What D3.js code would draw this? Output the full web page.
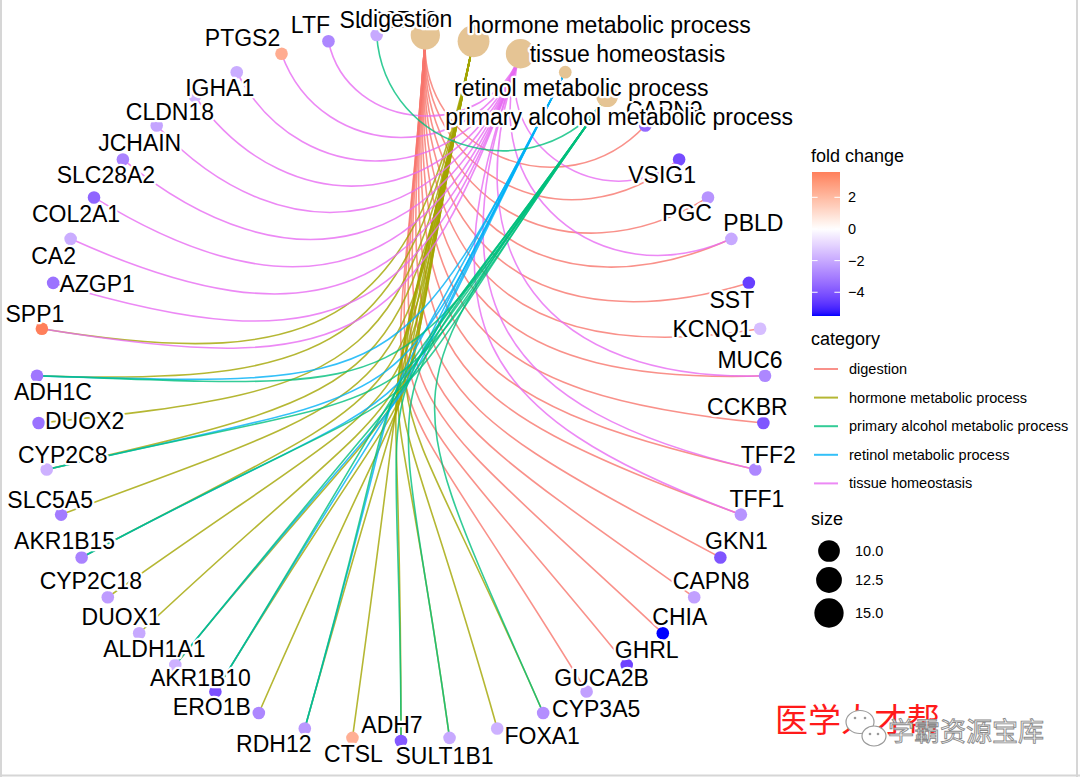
<!DOCTYPE html>
<html><head><meta charset="utf-8">
<script src="https://cdn.jsdelivr.net/npm/d3@7"></script>
<style>
body{margin:0;background:#fff;}
svg text{font-family:"Liberation Sans", Arial, sans-serif;}
</style></head><body>
<svg id="chart" width="1080" height="777"></svg>
<script>
// ---------------- data ----------------
const categories = ["digestion","hormone metabolic process","tissue homeostasis","retinol metabolic process","primary alcohol metabolic process"];
const legendCategories = ["digestion","hormone metabolic process","primary alcohol metabolic process","retinol metabolic process","tissue homeostasis"];
const genes = ["CAPN9","VSIG1","PGC","PBLD","SST","KCNQ1","MUC6","CCKBR","TFF2","TFF1","GKN1","CAPN8","CHIA","GHRL","GUCA2B","CYP3A5","FOXA1","SULT1B1","ADH7","CTSL","RDH12","ERO1B","AKR1B10","ALDH1A1","DUOX1","CYP2C18","AKR1B15","SLC5A5","CYP2C8","DUOX2","ADH1C","SPP1","AZGP1","CA2","COL2A1","SLC28A2","JCHAIN","CLDN18","IGHA1","PTGS2","LTF","SLC27A2"];
const foldChange = [-3.5,-4.2,-2.5,-2.0,-4.5,-1.5,-2.8,-4.0,-2.8,-2.5,-4.0,-2.2,-5.5,-4.4,-2.2,-2.6,-1.8,-2.0,-3.9,2.3,-2.4,-2.8,-4.1,-1.8,-2.0,-2.3,-2.9,-3.1,-1.8,-3.3,-3.2,3.6,-3.3,-1.9,-3.6,-2.9,-2.1,-1.7,-1.9,2.4,-2.8,-2.0];
const digestionGenes = ["CAPN9","VSIG1","PGC","PBLD","SST","KCNQ1","MUC6","CCKBR","TFF2","TFF1","GKN1","CAPN8","CHIA","GHRL","GUCA2B"];
const hormoneGenes = ["CYP3A5","FOXA1","SULT1B1","ADH7","CTSL","RDH12","ERO1B","AKR1B10","ALDH1A1","DUOX1","CYP2C18","AKR1B15","SLC5A5","CYP2C8","DUOX2","ADH1C","SPP1"];
const tissueGenes = ["VSIG1","PBLD","MUC6","TFF2","TFF1","SPP1","AZGP1","CA2","COL2A1","SLC28A2","JCHAIN","CLDN18","IGHA1","PTGS2","LTF"];
const retinolGenes = ["ADH1C","CYP2C8","AKR1B15","ALDH1A1","AKR1B10","RDH12"];
const alcoholGenes = ["CYP3A5","SULT1B1","ADH7","RDH12","AKR1B10","ALDH1A1","AKR1B15","CYP2C8","ADH1C","SLC27A2"];
const colorTicks = [2,0,-2,-4];
const sizeBreaks = [10,12.5,15];

// ---------------- layout (label placement, like ggrepel result) ----------------
const labelOffset = {
 "digestion":[-19,-16],"hormone metabolic process":[136,-16],"tissue homeostasis":[107,0],
 "retinol metabolic process":[16,16],"primary alcohol metabolic process":[12,21],
 CAPN9:[19,-16],VSIG1:[-17,16],PGC:[-21,16],PBLD:[22,-16],SST:[-17,17],KCNQ1:[-48,0],
 MUC6:[-15,-16],CCKBR:[-16,-16],TFF2:[13,-15],TFF1:[16,-16],GKN1:[16,-16],CAPN8:[17,-16],
 CHIA:[17,-16],GHRL:[20,-15],GUCA2B:[15,-14],CYP3A5:[53,-4],FOXA1:[45,8],SULT1B1:[-5,18],
 ADH7:[-9,-16],CTSL:[1,16],RDH12:[-31,16],ERO1B:[-47,-6],AKR1B10:[-15,-14],ALDH1A1:[-21,-16],
 DUOX1:[-18,-16],CYP2C18:[-17,-16],AKR1B15:[-17,-16],SLC5A5:[-11,-15],CYP2C8:[16,-15],
 DUOX2:[46,-2],ADH1C:[16,16],SPP1:[-7,-15],AZGP1:[44,1],CA2:[-17,17],COL2A1:[-18,17],
 SLC28A2:[-17,16],JCHAIN:[-17,17],CLDN18:[-25,16],IGHA1:[-17,16],PTGS2:[-39,-16],
 LTF:[-18,-16],SLC27A2:[12,-15]
};

// ---------------- build ----------------
const svg = d3.select("#chart");
svg.append("rect").attr("width",1080).attr("height",777).attr("fill","#fff");

const setsInOrder = [digestionGenes, hormoneGenes, tissueGenes, retinolGenes, alcoholGenes];
const edges = [];
categories.forEach((c,i)=> setsInOrder[i].forEach(g=>edges.push({source:c,target:g,category:c})));
const catCount = categories.map((c,i)=>setsInOrder[i].length);

const nodeNames = categories.concat(genes);
const angle = d3.scaleBand().domain(nodeNames).range([0, 2*Math.PI]);
const x = d3.scaleLinear().domain([-1,1]).range([401-364.2, 401+364.2]);
const y = d3.scaleLinear().domain([-1,1]).range([387.6+353.4, 387.6-353.4]);

const nodes = nodeNames.map((n,i)=>{
  const th = angle(n) + angle.bandwidth()/2;
  return {name:n, th, ux:Math.sin(th), uy:Math.cos(th), isCat: i<categories.length,
    fc: i<categories.length ? null : foldChange[i-categories.length],
    count: i<categories.length ? catCount[i] : null};
});
const byName = new Map(nodes.map(d=>[d.name,d]));

const catColor = d3.scaleOrdinal().domain(legendCategories).range(["#F8766D","#A3A500","#00BF7D","#00B0F6","#E76BF3"]);
const fcColor = d3.scaleLinear().domain([-5.5,0,5.5]).range(["#0000ff","#ffffff","#ff0000"]).interpolate(d3.interpolateLab);
const sizeArea = d3.scaleLinear().domain([10,15]).range([471,858]);
const diam = v => Math.sqrt(Math.max(sizeArea(v), 20));

// edges
function edgePath(a,b){
  let d = Math.abs(a.th-b.th); if (d>Math.PI) d = 2*Math.PI-d;
  const k = 1 - d/2;
  const p = d3.path();
  p.moveTo(x(a.ux), y(a.uy));
  p.bezierCurveTo(x(a.ux*k), y(a.uy*k), x(b.ux*k), y(b.uy*k), x(b.ux), y(b.uy));
  return p.toString();
}
svg.append("g").selectAll("path").data(edges).join("path")
  .attr("d", e=>edgePath(byName.get(e.source), byName.get(e.target)))
  .attr("fill","none").attr("stroke", e=>catColor(e.category))
  .attr("stroke-opacity",0.8).attr("stroke-width",1.6);

// nodes
svg.append("g").selectAll("circle").data(nodes).join("circle")
  .attr("cx", d=>x(d.ux)).attr("cy", d=>y(d.uy))
  .attr("r", d=> d.isCat ? diam(d.count)/2 : 6.3)
  .attr("fill", d=> d.isCat ? "#E5C494" : fcColor(d.fc));

// labels: genes first, then categories on top
const labelOrder = nodes.filter(d=>!d.isCat).concat(nodes.filter(d=>d.isCat));
svg.append("g").selectAll("text").data(labelOrder).join("text")
  .attr("x", d=>x(d.ux)+labelOffset[d.name][0])
  .attr("y", d=>y(d.uy)+labelOffset[d.name][1])
  .attr("text-anchor","middle").attr("dominant-baseline","central")
  .attr("font-size",23).attr("fill","#000")
  .attr("stroke","#fff").attr("stroke-width",4.5).attr("stroke-linejoin","round")
  .attr("paint-order","stroke")
  .text(d=>d.name);

// ---------------- legends ----------------
const L = svg.append("g");
L.append("text").attr("x",811).attr("y",162).attr("font-size",18).text("fold change");
const barTop=172, barBot=316, barX=812, barW=28;
const barY = d3.scaleLinear().domain([-5.5,3.6]).range([barBot,barTop]);
const grad = svg.append("defs").append("linearGradient").attr("id","fcgrad")
  .attr("x1",0).attr("y1",1).attr("x2",0).attr("y2",0);
d3.range(0,1.0001,0.02).forEach(t=>{
  grad.append("stop").attr("offset",t).attr("stop-color", fcColor(-5.5 + t*9.1));
});
L.append("rect").attr("x",barX).attr("y",barTop).attr("width",barW).attr("height",barBot-barTop).attr("fill","url(#fcgrad)");
colorTicks.forEach(v=>{
  const yy = barY(v);
  L.append("line").attr("x1",barX).attr("x2",barX+5.6).attr("y1",yy).attr("y2",yy).attr("stroke","#fff").attr("stroke-width",1);
  L.append("line").attr("x1",barX+barW-5.6).attr("x2",barX+barW).attr("y1",yy).attr("y2",yy).attr("stroke","#fff").attr("stroke-width",1);
  L.append("text").attr("x",848).attr("y",yy).attr("dominant-baseline","central").attr("font-size",14.5)
    .text(v<0 ? "\u2212"+Math.abs(v) : String(v));
});

L.append("text").attr("x",811).attr("y",345).attr("font-size",18).text("category");
legendCategories.forEach((c,i)=>{
  const yy = 369 + i*28.6;
  L.append("line").attr("x1",814).attr("x2",838).attr("y1",yy).attr("y2",yy)
    .attr("stroke",catColor(c)).attr("stroke-opacity",0.8).attr("stroke-width",2);
  L.append("text").attr("x",849).attr("y",yy).attr("dominant-baseline","central").attr("font-size",14.5).text(c);
});

L.append("text").attr("x",811).attr("y",525).attr("font-size",18).text("size");
const sizeY = [551,580,613];
sizeBreaks.forEach((v,i)=>{
  L.append("circle").attr("cx",829).attr("cy",sizeY[i]).attr("r",diam(v)/2).attr("fill","#000");
  L.append("text").attr("x",855).attr("y",sizeY[i]).attr("dominant-baseline","central").attr("font-size",14.5).text(d3.format(".1f")(v));
});

// ---------------- watermark ----------------
const W = svg.append("g");
W.append("text").attr("x",775).attr("y",718).attr("dominant-baseline","central")
  .attr("font-size",33).attr("fill","#ff1a1a")
  .style("font-family","'Noto Sans CJK SC', sans-serif").text("医学人才帮");
const icon = W.append("g").attr("fill","#fff").attr("stroke","#9a9a9a").attr("stroke-width",1.2);
icon.append("ellipse").attr("cx",860).attr("cy",722).attr("rx",14).attr("ry",11.5);
icon.append("ellipse").attr("cx",874).attr("cy",736).attr("rx",12).attr("ry",10);
[[855,718],[865,718],[870,734],[878,734]].forEach(p=>icon.append("circle").attr("cx",p[0]).attr("cy",p[1]).attr("r",1.3).attr("fill","#9a9a9a").attr("stroke","none"));
W.append("text").attr("x",888).attr("y",729).attr("dominant-baseline","central")
  .attr("font-size",26).attr("fill","#f6f6f6").attr("stroke","#8a8a8a").attr("stroke-width",0.9)
  .style("font-family","'Noto Sans CJK SC', sans-serif").text("学霸资源宝库");

// frame lines of the screenshot
const F = svg.append("g").attr("stroke","#d6d6d6").attr("stroke-width",2);
F.append("line").attr("x1",1).attr("x2",1).attr("y1",0).attr("y2",777);
F.append("line").attr("x1",1077).attr("x2",1077).attr("y1",0).attr("y2",777);
F.append("line").attr("x1",0).attr("x2",1080).attr("y1",775.5).attr("y2",775.5);
</script>
</body></html>
